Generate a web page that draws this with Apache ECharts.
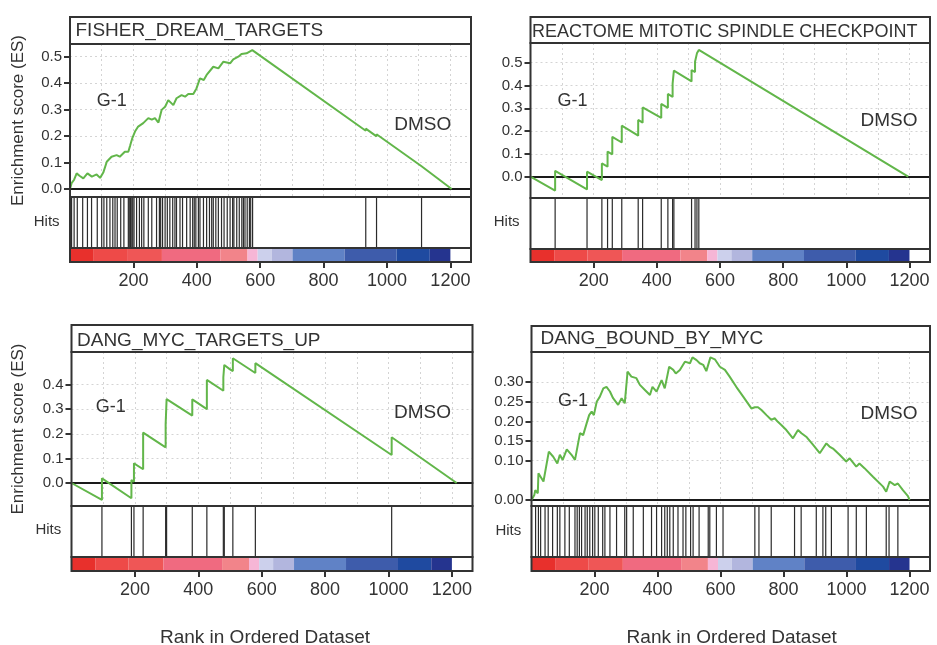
<!DOCTYPE html>
<html><head><meta charset="utf-8">
<script src="https://cdn.jsdelivr.net/npm/echarts@6/dist/echarts.min.js"></script>
<style>html,body{margin:0;padding:0;background:#fff}#c{width:937px;height:645px}</style>
</head><body><div id="c"></div>
<script>
// ================= DATA =================
const rankTicks = [200, 400, 600, 800, 1000, 1200];
// ranked-list heat bar: bin edges (rank) and metric level index per bin
const colorBarEdges = [0, 75, 180, 290, 475, 560, 592, 636, 702, 866, 1030, 1135, 1200];
const colorBarLevel = [0, 1, 2, 3, 4, 5, 6, 7, 8, 9, 10, 11];

const titleFisher = 'FISHER_DREAM_TARGETS';
const titleReactome = 'REACTOME MITOTIC SPINDLE CHECKPOINT';
const titleMycUp = 'DANG_MYC_TARGETS_UP';
const titleBound = 'DANG_BOUND_BY_MYC';

const esTicks1 = [0, 0.1, 0.2, 0.3, 0.4, 0.5];
const esTicks3 = [0, 0.1, 0.2, 0.3, 0.4];
const esTicks4 = [0, 0.10, 0.15, 0.20, 0.25, 0.30];

const esFisher = [[0,0],[5,0.022],[13,0.035],[21,0.059],[30,0.05],[42,0.040],[55,0.059],[69,0.047],[84,0.055],[95,0.042],[105,0.062],[116,0.103],[131,0.122],[147,0.128],[157,0.122],[173,0.141],[184,0.141],[190,0.165],[196,0.19],[205,0.217],[215,0.236],[231,0.249],[247,0.268],[258,0.262],[268,0.268],[279,0.251],[289,0.299],[300,0.311],[310,0.336],[326,0.317],[336,0.343],[352,0.355],[363,0.349],[373,0.359],[389,0.359],[399,0.380],[410,0.418],[422,0.412],[431,0.431],[452,0.462],[468,0.456],[484,0.481],[505,0.475],[515,0.490],[531,0.500],[541,0.510],[557,0.513],[575,0.525],[933,0.220],[933,0.228],[967,0.199],[967,0.207],[1109,0.086],[1109,0.092],[1204,0]];
const hitsFisher = [5,13,23,40,55,68,86,100,107,116,126,135,142,149,160,170,184,187,191,195,198,202,210,219,226,233,247,258,273,282,286,292,300,307,315,324,331,336,347,355,368,379,387,392,397,405,410,421,431,440,447,452,460,468,478,486,496,505,513,517,526,534,542,547,552,559,566,570,576,933,967,1109];

const esReactome = [[0,0],[78,-0.061],[78,0.026],[179,-0.056],[179,0.022],[226,-0.015],[226,0.058],[244,0.044],[244,0.110],[259,0.098],[259,0.175],[289,0.150],[289,0.224],[341,0.180],[341,0.249],[355,0.237],[355,0.304],[414,0.258],[414,0.319],[435,0.302],[435,0.363],[450,0.350],[450,0.408],[454,0.405],[454,0.465],[510,0.418],[510,0.468],[521,0.459],[521,0.504],[527,0.499],[527,0.541],[533,0.536],[533,0.556],[1196,0]];
const hitsReactome = [78,179,226,244,259,289,341,355,414,435,450,454,510,521,527,533];

const esMycUp = [[0,0],[96,-0.069],[96,0.019],[189,-0.062],[189,0.012],[197,0.005],[197,0.080],[226,0.056],[226,0.205],[297,0.145],[297,0.240],[300,0.237],[300,0.341],[381,0.274],[381,0.340],[427,0.300],[427,0.419],[479,0.375],[479,0.430],[482,0.428],[482,0.480],[500,0.462],[509,0.455],[509,0.507],[580,0.447],[580,0.487],[1010,0.114],[1010,0.186],[1215,0]];
const hitsMycUp = [96,189,197,226,297,300,381,427,479,482,509,580,1010];

const esBound = [[0,0],[9,0.013],[12,0.025],[20,0.017],[22,0.068],[38,0.047],[55,0.123],[69,0.110],[82,0.093],[90,0.115],[99,0.102],[112,0.129],[127,0.115],[138,0.102],[143,0.123],[154,0.170],[164,0.165],[175,0.195],[183,0.216],[191,0.225],[198,0.216],[207,0.250],[217,0.263],[228,0.284],[238,0.288],[249,0.276],[259,0.259],[275,0.242],[286,0.259],[296,0.246],[305,0.327],[317,0.314],[333,0.310],[344,0.293],[360,0.280],[376,0.267],[384,0.288],[397,0.276],[413,0.305],[423,0.284],[437,0.339],[450,0.331],[458,0.322],[471,0.331],[487,0.352],[503,0.348],[511,0.363],[524,0.356],[534,0.348],[545,0.344],[555,0.328],[568,0.363],[582,0.358],[598,0.339],[614,0.331],[629,0.314],[650,0.288],[672,0.263],[698,0.233],[709,0.236],[719,0.236],[730,0.229],[746,0.216],[761,0.204],[772,0.208],[782,0.199],[793,0.191],[809,0.178],[830,0.157],[846,0.178],[857,0.170],[872,0.161],[894,0.140],[915,0.119],[925,0.131],[936,0.144],[946,0.136],[957,0.131],[978,0.115],[999,0.098],[1010,0.106],[1031,0.085],[1041,0.093],[1057,0.081],[1084,0.059],[1116,0.034],[1126,0.021],[1137,0.047],[1153,0.038],[1163,0.042],[1179,0.025],[1195,0.010],[1200,0]];
const hitsBound = [13,22,29,43,53,67,82,90,106,120,138,145,152,159,170,177,185,194,201,212,226,233,249,270,296,302,323,355,381,397,413,423,431,439,450,465,481,490,505,513,532,561,566,587,608,709,722,761,835,856,904,925,934,952,1005,1031,1063,1126,1135,1163];

// ================= STYLE / LAYOUT =================
const FONT = '"Liberation Sans", Arial, Helvetica, sans-serif';
const BORDER = '#333';
const GREEN = '#62b64a';
const heatColors = ['#e8302c','#ee4a48','#ef5656','#f06a80','#f2848a','#f6b6d6','#ccd0ec','#b2b6de','#6082c6','#3e5cab','#1f4aa0','#25348f'];
const RANK_MAX = 1265;

const panels = [
  {left:70, width:401, title:[17,44], es:[44,197], hits:[197,248], cb:[248,262], zeroY:189, pxPerUnit:264.6,
   name:titleFisher, titleSize:19, es_:esFisher, hits_:hitsFisher, ticks:esTicks1, dec:1, split:5,
   titlePos:[75.5,31], g1:[111.7,101], dmso:[422.7,125], hitsLbl:[46.7,221.7]},
  {left:530.5, width:399.5, title:[17,43], es:[43,198], hits:[198,249], cb:[249,262], zeroY:176.7, pxPerUnit:228,
   name:titleReactome, titleSize:18, es_:esReactome, hits_:hitsReactome, ticks:esTicks1, dec:1, split:5,
   titlePos:[532,32], g1:[572.5,101], dmso:[889,121], hitsLbl:[506.7,222.3]},
  {left:71.5, width:401, title:[325,352], es:[352,506], hits:[506,557], cb:[557,571], zeroY:483, pxPerUnit:246,
   name:titleMycUp, titleSize:19, es_:esMycUp, hits_:hitsMycUp, ticks:esTicks3, dec:1, split:5,
   titlePos:[77,340.5], g1:[110.8,407.5], dmso:[422.5,413], hitsLbl:[48.3,530]},
  {left:531.5, width:398.5, title:[326,352], es:[352,506], hits:[506,557], cb:[557,571], zeroY:500, pxPerUnit:393,
   name:titleBound, titleSize:19, es_:esBound, hits_:hitsBound, ticks:esTicks4, dec:2, split:8,
   titlePos:[540.5,338.5], g1:[573,401], dmso:[889,413.7], hitsLbl:[508.3,531]}
];

const option = {animation:false, backgroundColor:'#fff', grid:[], xAxis:[], yAxis:[], series:[], graphic:[]};
const dotted = {show:true, lineStyle:{color:'#d4d4d4', width:1, type:[2,3]}};

function txt(x, y, text, size, align, rot) {
  return {type:'text', x:x, y:y, rotation:rot||0, z:50,
    style:{text:text, font:size+'px '+FONT, fill:'#333', align:align, verticalAlign:'middle', textAlign:align, textVerticalAlign:'middle'}};
}

panels.forEach(function(p){
  const gi = option.grid.length;
  const box = function(r){ return {left:p.left, top:r[0], width:p.width, height:r[1]-r[0], show:true, z:10,
      borderColor:BORDER, borderWidth:2, backgroundColor:'rgba(0,0,0,0)'}; };
  option.grid.push(box(p.title), box(p.es), box(p.hits), box(p.cb));
  const esMin = -(p.es[1]-p.zeroY)/p.pxPerUnit;
  const esMax = (p.zeroY-p.es[0])/p.pxPerUnit;
  // title box
  option.xAxis.push({gridIndex:gi, type:'value', min:0, max:1, show:false});
  option.yAxis.push({gridIndex:gi, type:'value', min:0, max:1, show:false});
  // ES
  option.xAxis.push({gridIndex:gi+1, type:'value', min:0, max:RANK_MAX, interval:100,
    axisLine:{show:true, onZero:true, lineStyle:{color:'#1a1a1a', width:2}},
    axisTick:{show:false}, axisLabel:{show:false}, splitLine:dotted});
  option.yAxis.push({gridIndex:gi+1, type:'value', min:esMin, max:esMax, splitNumber:p.split,
    axisLine:{show:false},
    axisTick:{show:true, length:6, customValues:p.ticks, lineStyle:{color:BORDER, width:2}},
    axisLabel:{show:true, customValues:p.ticks, formatter:function(v){return v.toFixed(p.dec);},
      fontSize:15, color:'#333', margin:8, fontFamily:FONT},
    splitLine:dotted});
  // hits
  option.xAxis.push({gridIndex:gi+2, type:'value', min:0, max:RANK_MAX, show:false});
  option.yAxis.push({gridIndex:gi+2, type:'value', min:0, max:1, show:false});
  // colour bar
  option.xAxis.push({gridIndex:gi+3, type:'value', min:0, max:RANK_MAX, position:'bottom',
    axisLine:{show:false},
    axisTick:{show:true, inside:false, length:6, customValues:rankTicks, lineStyle:{color:BORDER, width:2}},
    axisLabel:{show:true, customValues:rankTicks, formatter:function(v){return String(v);},
      fontSize:18, color:'#333', margin:10, fontFamily:FONT},
    splitLine:{show:false}});
  option.yAxis.push({gridIndex:gi+3, type:'value', min:0, max:1, show:false});

  option.series.push({type:'line', xAxisIndex:gi+1, yAxisIndex:gi+1, data:p.es_, showSymbol:false, symbol:'none',
    lineStyle:{color:GREEN, width:2}, z:5, silent:true});
  option.series.push({type:'custom', xAxisIndex:gi+2, yAxisIndex:gi+2, data:p.hits_.map(function(r){return [r,0];}),
    encode:{x:0, y:1}, silent:true,
    renderItem:function(params, api){
      const r = api.value(0);
      const a = api.coord([r, 0]), b = api.coord([r, 1]);
      return {type:'line', shape:{x1:a[0], y1:a[1], x2:b[0], y2:b[1]}, style:{stroke:'#2b2b2b', lineWidth:1.2}};
    }});
  option.series.push({type:'custom', xAxisIndex:gi+3, yAxisIndex:gi+3, silent:true,
    data:colorBarEdges.slice(0,-1).map(function(e,k){return [e, colorBarEdges[k+1], colorBarLevel[k]];}),
    encode:{x:[0,1]},
    renderItem:function(params, api){
      const a = api.coord([api.value(0), 0]), b = api.coord([api.value(1), 1]);
      return {type:'rect', shape:{x:a[0], y:b[1], width:b[0]-a[0], height:a[1]-b[1]},
        style:{fill:heatColors[api.value(2)]}};
    }});

  option.graphic.push(txt(p.titlePos[0], p.titlePos[1], p.name, p.titleSize, 'left'));
  option.graphic.push(txt(p.g1[0], p.g1[1], 'G-1', 18, 'center'));
  option.graphic.push(txt(p.dmso[0], p.dmso[1], 'DMSO', 19, 'center'));
  option.graphic.push(txt(p.hitsLbl[0], p.hitsLbl[1], 'Hits', 15, 'center'));
});

option.graphic.push(txt(18, 120.5, 'Enrichment score (ES)', 17, 'center', Math.PI/2));
option.graphic.push(txt(18, 429, 'Enrichment score (ES)', 17, 'center', Math.PI/2));
option.graphic.push(txt(265, 637.7, 'Rank in Ordered Dataset', 19, 'center'));
option.graphic.push(txt(731.7, 637.7, 'Rank in Ordered Dataset', 19, 'center'));

const chart = echarts.init(document.getElementById('c'), null, {renderer:'canvas'});
chart.setOption(option);
</script>
</body></html>
